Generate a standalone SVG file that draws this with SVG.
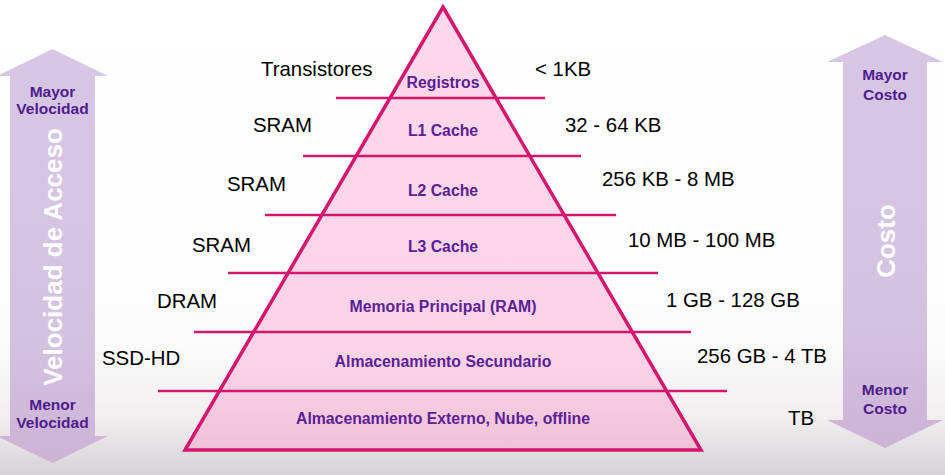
<svg xmlns="http://www.w3.org/2000/svg" width="945" height="475" viewBox="0 0 945 475">
<defs>
<linearGradient id="bg" x1="0" y1="0" x2="0" y2="1">
<stop offset="0" stop-color="#ffffff"/>
<stop offset="0.72" stop-color="#fcfcfd"/>
<stop offset="0.88" stop-color="#f1eeef"/>
<stop offset="1" stop-color="#d6d3d8"/>
</linearGradient>
<linearGradient id="arrowFill" x1="0" y1="0" x2="0" y2="1">
<stop offset="0" stop-color="#d7c7e5"/>
<stop offset="0.7" stop-color="#d4c2e1"/>
<stop offset="1" stop-color="#cdb2d6"/>
</linearGradient>
<linearGradient id="pyrFill" x1="0" y1="0" x2="0" y2="1">
<stop offset="0" stop-color="#fdd8eb"/>
<stop offset="0.8" stop-color="#fbd3e6"/>
<stop offset="1" stop-color="#efc2d8"/>
</linearGradient>
<style>
.lvl{stroke:#d5166e;stroke-width:2.5;fill:none}
.inner{font-family:"Liberation Sans",Arial,sans-serif;font-weight:bold;font-size:15.8px;fill:#5a2197;text-anchor:middle}
.side{font-family:"Liberation Sans",Arial,sans-serif;font-size:20.4px;fill:#000}
.arr{font-family:"Liberation Sans",Arial,sans-serif;font-weight:bold;font-size:15.5px;fill:#4f1c8e;text-anchor:middle}
.big{font-family:"Liberation Sans",Arial,sans-serif;font-weight:bold;font-size:26px;fill:#ffffff;text-anchor:middle}
</style>
</defs>
<rect x="0" y="0" width="945" height="475" fill="url(#bg)"/>

<g id="arrow-velocidad">
<polygon points="52.5,49 108,76 95,76 95,436 108,436 52.5,463 -3,436 10,436 10,76 -3,76" fill="url(#arrowFill)"/>
<text class="arr" x="52.5" y="97">Mayor</text>
<text class="arr" x="52.5" y="114">Velocidad</text>
<text class="big" transform="translate(62,257) rotate(-90)">Velocidad de Acceso</text>
<text class="arr" x="52.5" y="410">Menor</text>
<text class="arr" x="52.5" y="428">Velocidad</text>
</g>

<g id="arrow-costo">
<polygon points="885,35 943,62 927,62 927,420 943,420 885,448 827,420 843,420 843,62 827,62" fill="url(#arrowFill)"/>
<text class="arr" x="885" y="80">Mayor</text>
<text class="arr" x="885" y="100">Costo</text>
<text class="big" transform="translate(895,241) rotate(-90)">Costo</text>
<text class="arr" x="885" y="395">Menor</text>
<text class="arr" x="885" y="414">Costo</text>
</g>

<g id="pyramid">
<polygon points="443,7 701,450 185,450" fill="url(#pyrFill)" stroke="#d5166e" stroke-width="3.5" stroke-linejoin="miter"/>
</g>

<g id="connectors">
<line class="lvl" x1="336" y1="98" x2="545" y2="98"/>
<line class="lvl" x1="303" y1="156" x2="581" y2="156"/>
<line class="lvl" x1="265" y1="215" x2="616" y2="215"/>
<line class="lvl" x1="228" y1="273" x2="658" y2="273"/>
<line class="lvl" x1="194" y1="332" x2="691" y2="332"/>
<line class="lvl" x1="158" y1="391" x2="727" y2="391"/>
</g>

<g id="level-registros">
<text class="inner" x="443" y="88">Registros</text>
<text class="side" x="261" y="76">Transistores</text>
<text class="side" x="535" y="76">&lt; 1KB</text>
</g>
<g id="level-l1">
<text class="inner" x="443" y="136">L1 Cache</text>
<text class="side" x="253" y="132">SRAM</text>
<text class="side" x="565" y="132">32 - 64 KB</text>
</g>
<g id="level-l2">
<text class="inner" x="443" y="196">L2 Cache</text>
<text class="side" x="227" y="191">SRAM</text>
<text class="side" x="602" y="186">256 KB - 8 MB</text>
</g>
<g id="level-l3">
<text class="inner" x="443" y="252">L3 Cache</text>
<text class="side" x="192" y="252">SRAM</text>
<text class="side" x="628" y="247">10 MB - 100 MB</text>
</g>
<g id="level-ram">
<text class="inner" x="443" y="312">Memoria Principal (RAM)</text>
<text class="side" x="157" y="308">DRAM</text>
<text class="side" x="666" y="307">1 GB - 128 GB</text>
</g>
<g id="level-secundario">
<text class="inner" x="443" y="367">Almacenamiento Secundario</text>
<text class="side" x="102" y="365">SSD-HD</text>
<text class="side" x="697" y="363">256 GB - 4 TB</text>
</g>
<g id="level-externo">
<text class="inner" x="443" y="424">Almacenamiento Externo, Nube, offline</text>
<text class="side" x="788" y="425">TB</text>
</g>
</svg>
